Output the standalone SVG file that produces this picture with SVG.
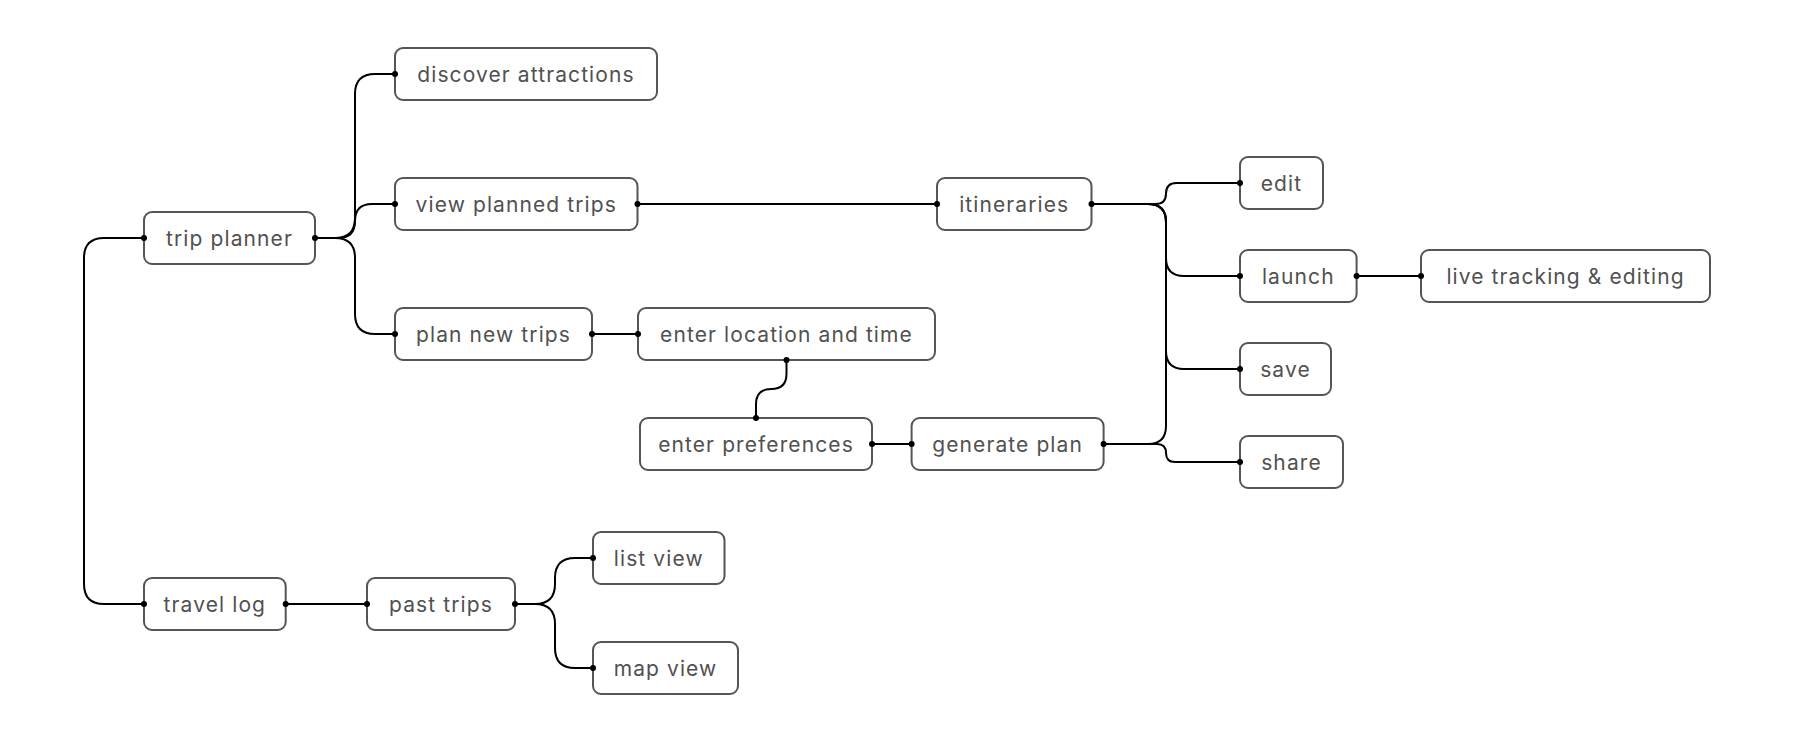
<svg xmlns="http://www.w3.org/2000/svg" width="1796" height="741" viewBox="0 0 1796 741">
<style>
.n rect{fill:#fff;stroke:#555;stroke-width:2}
.n text{font-family:Inter,"Noto Sans",sans-serif;font-size:21px;letter-spacing:1.1px;fill:#515151;text-anchor:middle;dominant-baseline:central}
.c path{fill:none;stroke:#000;stroke-width:2}
.c circle{fill:#000}
</style>
<rect width="1796" height="741" fill="#fff"/>
<g class="n" id="trip-planner"><rect x="144" y="212" width="171" height="52" rx="8"/><text x="229.5" y="238">trip planner</text></g>
<g class="n" id="discover-attractions"><rect x="395" y="48" width="262" height="52" rx="8"/><text x="526" y="74">discover attractions</text></g>
<g class="n" id="view-planned-trips"><rect x="395" y="178" width="242.5" height="52" rx="8"/><text x="516.25" y="204">view planned trips</text></g>
<g class="n" id="plan-new-trips"><rect x="395" y="308" width="197" height="52" rx="8"/><text x="493.5" y="334">plan new trips</text></g>
<g class="n" id="enter-location"><rect x="638" y="308" width="297" height="52" rx="8"/><text x="786.5" y="334">enter location and time</text></g>
<g class="n" id="enter-preferences"><rect x="640" y="418" width="232" height="52" rx="8"/><text x="756" y="444">enter preferences</text></g>
<g class="n" id="generate-plan"><rect x="911.6" y="418" width="192" height="52" rx="8"/><text x="1007.6" y="444">generate plan</text></g>
<g class="n" id="itineraries"><rect x="937" y="178" width="154.5" height="52" rx="8"/><text x="1014.25" y="204">itineraries</text></g>
<g class="n" id="edit"><rect x="1240" y="157" width="83" height="52" rx="8"/><text x="1281.5" y="183">edit</text></g>
<g class="n" id="launch"><rect x="1240" y="250" width="116.6" height="52" rx="8"/><text x="1298.3" y="276">launch</text></g>
<g class="n" id="live-tracking"><rect x="1421" y="250" width="289" height="52" rx="8"/><text x="1565.5" y="276">live tracking &amp; editing</text></g>
<g class="n" id="save"><rect x="1240" y="343" width="91" height="52" rx="8"/><text x="1285.5" y="369">save</text></g>
<g class="n" id="share"><rect x="1240" y="436" width="103" height="52" rx="8"/><text x="1291.5" y="462">share</text></g>
<g class="n" id="travel-log"><rect x="144" y="578" width="141.7" height="52" rx="8"/><text x="214.85" y="604">travel log</text></g>
<g class="n" id="past-trips"><rect x="367" y="578" width="148" height="52" rx="8"/><text x="441" y="604">past trips</text></g>
<g class="n" id="list-view"><rect x="593" y="532" width="131.5" height="52" rx="8"/><text x="658.75" y="558">list view</text></g>
<g class="n" id="map-view"><rect x="593" y="642" width="145" height="52" rx="8"/><text x="665.5" y="668">map view</text></g>
<g class="c" id="connectors">
<path d="M315,238 L335,238 Q355,238 355,218 L355,94 Q355,74 375,74 L395,74"/>
<path d="M315,238 L338,238 Q355,238 355,221 Q355,204 372,204 L395,204"/>
<path d="M315,238 L335,238 Q355,238 355,258 L355,314 Q355,334 375,334 L395,334"/>
<path d="M144,238 L104,238 Q84,238 84,258 L84,584 Q84,604 104,604 L144,604"/>
<path d="M637.5,204 L937,204"/>
<path d="M592,334 L638,334"/>
<path d="M786.5,360 L786.5,373.75 Q786.5,389 771.25,389 Q756,389 756,404.25 L756,418"/>
<path d="M872,444 L911.6,444"/>
<path d="M1091.5,204 L1155.5,204 Q1166,204 1166,193.5 Q1166,183 1176.5,183 L1240,183"/>
<path d="M1091.5,204 L1148,204 Q1166,204 1166,222 L1166,258 Q1166,276 1184,276 L1240,276"/>
<path d="M1091.5,204 L1148,204 Q1166,204 1166,222 L1166,351 Q1166,369 1184,369 L1240,369"/>
<path d="M1103.6,444 L1148,444 Q1166,444 1166,426 L1166,222 Q1166,204 1148,204 L1091.5,204"/>
<path d="M1103.6,444 L1157,444 Q1166,444 1166,453 Q1166,462 1175,462 L1240,462"/>
<path d="M1356.6,276 L1421,276"/>
<path d="M285.7,604 L367,604"/>
<path d="M515,604 L535,604 Q555,604 555,584 L555,578 Q555,558 575,558 L593,558"/>
<path d="M515,604 L535,604 Q555,604 555,624 L555,648 Q555,668 575,668 L593,668"/>
<circle cx="315" cy="238" r="3"/><circle cx="144" cy="238" r="3"/>
<circle cx="395" cy="74" r="3"/><circle cx="395" cy="204" r="3"/><circle cx="395" cy="334" r="3"/>
<circle cx="637.5" cy="204" r="3"/><circle cx="937" cy="204" r="3"/>
<circle cx="592" cy="334" r="3"/><circle cx="638" cy="334" r="3"/>
<circle cx="786.5" cy="360" r="3"/><circle cx="756" cy="418" r="3"/>
<circle cx="872" cy="444" r="3"/><circle cx="911.6" cy="444" r="3"/>
<circle cx="1091.5" cy="204" r="3"/><circle cx="1103.6" cy="444" r="3"/>
<circle cx="1240" cy="183" r="3"/><circle cx="1240" cy="276" r="3"/><circle cx="1240" cy="369" r="3"/><circle cx="1240" cy="462" r="3"/>
<circle cx="1356.6" cy="276" r="3"/><circle cx="1421" cy="276" r="3"/>
<circle cx="144" cy="604" r="3"/><circle cx="285.7" cy="604" r="3"/><circle cx="367" cy="604" r="3"/><circle cx="515" cy="604" r="3"/>
<circle cx="593" cy="558" r="3"/><circle cx="593" cy="668" r="3"/>
</g>
</svg>
